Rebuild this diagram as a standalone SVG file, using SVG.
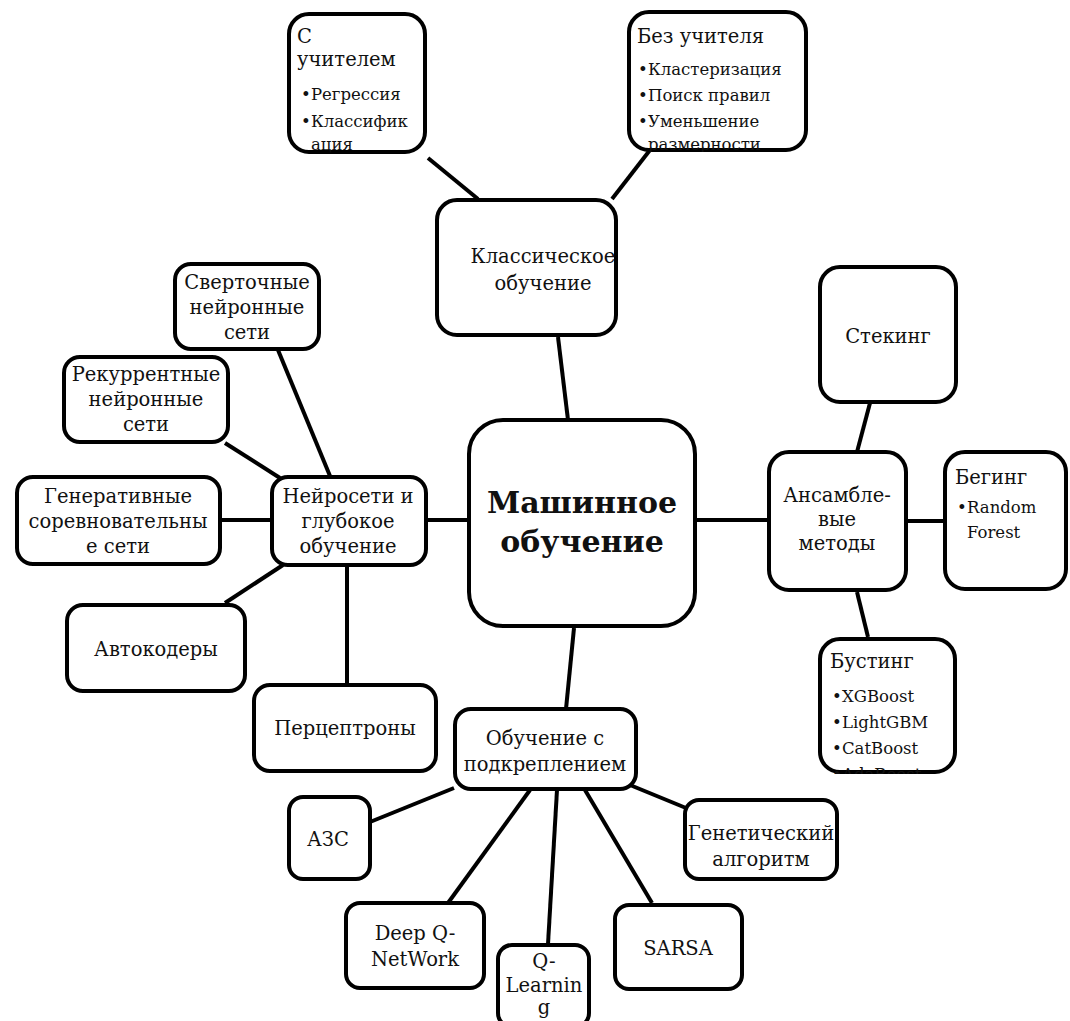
<svg xmlns="http://www.w3.org/2000/svg" width="1070" height="1021" viewBox="0 0 1070 1021">
<style>
.box{fill:#fff;stroke:#000;stroke-width:4}
.ln{stroke:#000;stroke-width:4;fill:none}
text{font-family:"DejaVu Serif","Liberation Serif","Noto Serif",serif;font-size:16.5px;fill:#111}
.c{text-anchor:middle}
.m{font-size:19.5px}
.big{font-size:30px;font-weight:bold}
</style>
<defs>
<clipPath id="cp1"><rect x="287" y="12" width="140" height="142"/></clipPath>
<clipPath id="cp2"><rect x="627" y="10" width="181" height="142"/></clipPath>
<clipPath id="cp3"><rect x="818" y="637" width="139" height="137"/></clipPath>
</defs>
<rect width="1070" height="1021" fill="#fff"/>
<g id="connectors">
<line class="ln" x1="428" y1="158" x2="478" y2="199"/>
<line class="ln" x1="650" y1="150" x2="612" y2="199"/>
<line class="ln" x1="558" y1="337" x2="568" y2="420"/>
<line class="ln" x1="574" y1="628" x2="566" y2="709"/>
<line class="ln" x1="428" y1="520" x2="467" y2="520"/>
<line class="ln" x1="697" y1="520" x2="767" y2="520"/>
<line class="ln" x1="908" y1="521" x2="943" y2="521"/>
<line class="ln" x1="870" y1="403" x2="857" y2="452"/>
<line class="ln" x1="857" y1="592" x2="868" y2="637"/>
<line class="ln" x1="278" y1="350" x2="330" y2="476"/>
<line class="ln" x1="225" y1="443" x2="280" y2="478"/>
<line class="ln" x1="222" y1="520" x2="270" y2="520"/>
<line class="ln" x1="225" y1="603" x2="283" y2="565"/>
<line class="ln" x1="347" y1="567" x2="347" y2="685"/>
<line class="ln" x1="454" y1="788" x2="370" y2="822"/>
<line class="ln" x1="530" y1="790" x2="448" y2="903"/>
<line class="ln" x1="557" y1="790" x2="548" y2="944"/>
<line class="ln" x1="585" y1="790" x2="652" y2="903"/>
<line class="ln" x1="630" y1="785" x2="686" y2="808"/>
</g>
<g id="n-supervised">
<rect class="box" x="289" y="14" width="136" height="138" rx="20"/>
<g clip-path="url(#cp1)">
<text x="297" y="43" class="m">С</text>
<text x="297" y="66" class="m">учителем</text>
<text x="301" y="100">•</text><text x="311" y="100">Регрессия</text>
<text x="301" y="127">•</text><text x="311" y="127">Классифик</text>
<text x="311" y="150">ация</text>
</g>
</g>
<g id="n-unsupervised">
<rect class="box" x="629" y="12" width="177" height="138" rx="20"/>
<g clip-path="url(#cp2)">
<text x="637" y="43" class="m">Без учителя</text>
<text x="638" y="75">•</text><text x="648" y="75">Кластеризация</text>
<text x="638" y="101">•</text><text x="648" y="101">Поиск правил</text>
<text x="638" y="127">•</text><text x="648" y="127">Уменьшение</text>
<text x="648" y="150">размерности</text>
</g>
</g>
<g id="n-classic">
<rect class="box" x="437" y="200" width="179" height="135" rx="20"/>
<text x="543" y="263" class="c m">Классическое</text>
<text x="543" y="290" class="c m">обучение</text>
</g>
<g id="n-center">
<rect class="box" x="469" y="420" width="226" height="206" rx="34"/>
<text x="582" y="513" class="c big">Машинное</text>
<text x="582" y="552" class="c big">обучение</text>
</g>
<g id="n-conv">
<rect class="box" x="175" y="264" width="144" height="85" rx="16"/>
<text x="247" y="289" class="c m">Сверточные</text>
<text x="247" y="314" class="c m">нейронные</text>
<text x="247" y="339" class="c m">сети</text>
</g>
<g id="n-rnn">
<rect class="box" x="64" y="357" width="164" height="85" rx="16"/>
<text x="146" y="381" class="c m">Рекуррентные</text>
<text x="146" y="406" class="c m">нейронные</text>
<text x="146" y="431" class="c m">сети</text>
</g>
<g id="n-gan">
<rect class="box" x="17" y="477" width="203" height="87" rx="16"/>
<text x="118" y="503" class="c m">Генеративные</text>
<text x="118" y="528" class="c m">соревновательны</text>
<text x="118" y="553" class="c m">е сети</text>
</g>
<g id="n-nn">
<rect class="box" x="272" y="477" width="154" height="88" rx="16"/>
<text x="348" y="503" class="c m">Нейросети и</text>
<text x="348" y="528" class="c m">глубокое</text>
<text x="348" y="553" class="c m">обучение</text>
</g>
<g id="n-ae">
<rect class="box" x="67" y="605" width="178" height="86" rx="16"/>
<text x="156" y="656" class="c m">Автокодеры</text>
</g>
<g id="n-perc">
<rect class="box" x="254" y="685" width="182" height="86" rx="16"/>
<text x="345" y="735" class="c m">Перцептроны</text>
</g>
<g id="n-rl">
<rect class="box" x="455" y="709" width="181" height="80" rx="16"/>
<text x="545" y="745" class="c m">Обучение с</text>
<text x="545" y="771" class="c m">подкреплением</text>
</g>
<g id="n-azs">
<rect class="box" x="289" y="797" width="81" height="82" rx="14"/>
<text x="328" y="846" class="c m">АЗС</text>
</g>
<g id="n-genetic">
<rect class="box" x="685" y="800" width="152" height="79" rx="14"/>
<text x="761" y="840" class="c m">Генетический</text>
<text x="761" y="866" class="c m">алгоритм</text>
</g>
<g id="n-dqn">
<rect class="box" x="346" y="903" width="138" height="85" rx="14"/>
<text x="415" y="940" class="c m">Deep Q-</text>
<text x="415" y="966" class="c m">NetWork</text>
</g>
<g id="n-qlearn">
<rect class="box" x="498" y="945" width="91" height="82" rx="14"/>
<text x="544" y="968" class="c m">Q-</text>
<text x="544" y="992" class="c m">Learnin</text>
<text x="544" y="1014" class="c m">g</text>
</g>
<g id="n-sarsa">
<rect class="box" x="615" y="905" width="127" height="84" rx="14"/>
<text x="678" y="955" class="c m">SARSA</text>
</g>
<g id="n-stacking">
<rect class="box" x="820" y="267" width="136" height="135" rx="20"/>
<text x="888" y="343" class="c m">Стекинг</text>
</g>
<g id="n-ensemble">
<rect class="box" x="769" y="452" width="137" height="138" rx="20"/>
<text x="837" y="502" class="c m">Ансамбле-</text>
<text x="837" y="526" class="c m">вые</text>
<text x="837" y="550" class="c m">методы</text>
</g>
<g id="n-bagging">
<rect class="box" x="945" y="452" width="121" height="137" rx="20"/>
<text x="955" y="484" class="m">Бегинг</text>
<text x="957" y="513">•</text><text x="967" y="513">Random</text>
<text x="967" y="538">Forest</text>
</g>
<g id="n-boosting">
<rect class="box" x="820" y="639" width="135" height="133" rx="20"/>
<g clip-path="url(#cp3)">
<text x="830" y="668" class="m">Бустинг</text>
<text x="832" y="702">•</text><text x="842" y="702">XGBoost</text>
<text x="832" y="728">•</text><text x="842" y="728">LightGBM</text>
<text x="832" y="754">•</text><text x="842" y="754">CatBoost</text>
<text x="832" y="780">•</text><text x="842" y="780">AdaBoost</text>
</g>
</g>
</svg>
